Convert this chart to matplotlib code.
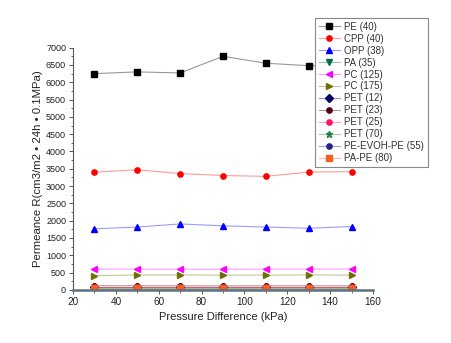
import matplotlib
matplotlib.use("Agg")
import matplotlib.pyplot as plt
from matplotlib.colors import to_rgba
from matplotlib.ticker import MultipleLocator

plt.rcParams['font.family'] = ['Liberation Sans', 'DejaVu Sans']

# pressure difference (kPa)
pressure = [30, 50, 70, 90, 110, 130, 150]

# permeance values
pe_40 = [6250, 6300, 6270, 6750, 6550, 6480, 6460]
cpp_40 = [3400, 3470, 3360, 3305, 3280, 3405, 3415]
opp_38 = [1765, 1815, 1905, 1850, 1815, 1780, 1830]
pa_35 = [15, 15, 15, 15, 15, 15, 15]
pc_125 = [600, 600, 595, 595, 600, 600, 600]
pc_175 = [410, 430, 430, 425, 425, 430, 425]
pet_12 = [90, 90, 90, 90, 90, 90, 90]
pet_23 = [120, 120, 118, 115, 118, 118, 115]
pet_25 = [75, 75, 75, 75, 75, 75, 75]
pet_70 = [40, 40, 40, 40, 40, 40, 40]
pe_evoh_pe = [5, 5, 5, 5, 5, 5, 5]
pa_pe = [55, 60, 58, 55, 58, 58, 55]

series = [
    ("PE (40)", pe_40, "black", "s"),
    ("CPP (40)", cpp_40, "red", "o"),
    ("OPP (38)", opp_38, "blue", "^"),
    ("PA (35)", pa_35, "#007040", "v"),
    ("PC (125)", pc_125, "#ff00ff", "<"),
    ("PC (175)", pc_175, "#707000", ">"),
    ("PET (12)", pet_12, "#000060", "D"),
    ("PET (23)", pet_23, "#500010", "o"),
    ("PET (25)", pet_25, "#ff1060", "o"),
    ("PET (70)", pet_70, "#208040", "*"),
    ("PE-EVOH-PE (55)", pe_evoh_pe, "#202090", "o"),
    ("PA-PE (80)", pa_pe, "#f06020", "s"),
]

fig = plt.figure(figsize=(4.51, 3.43), dpi=100)
ax = fig.add_axes([0.162, 0.155, 0.665, 0.706])

for label, vals, c, m in series:
    ms = 4.5 if m == "*" else 3.8
    ax.plot(pressure, vals, color=to_rgba(c, 0.4), lw=0.8, marker=m,
            markersize=ms, markerfacecolor=c, markeredgecolor=c, label=label)

ax.set_xlim(20, 160)
ax.set_ylim(0, 7000)
ax.xaxis.set_major_locator(MultipleLocator(20))
ax.xaxis.set_minor_locator(MultipleLocator(10))
ax.yaxis.set_major_locator(MultipleLocator(500))
ax.yaxis.set_minor_locator(MultipleLocator(250))

for s in ["top", "right"]:
    ax.spines[s].set_visible(False)
ax.spines["left"].set_color("#555555")
ax.spines["left"].set_linewidth(0.8)
ax.spines["bottom"].set_color("#607080")
ax.spines["bottom"].set_linewidth(1.8)

ax.tick_params(axis="y", which="major", labelsize=6.5)
ax.tick_params(axis="x", which="major", labelsize=7.2)
ax.tick_params(axis="both", which="major", length=3, width=0.7,
               color="#555555", labelcolor="#222222", pad=2)
ax.tick_params(axis="both", which="minor", length=1.8, width=0.6, color="#555555")

ax.set_xlabel("Pressure Difference (kPa)", fontsize=8, color="#222222", labelpad=4)
ax.set_ylabel("Permeance R(cm3/m2 \u2022 24h \u2022 0.1MPa)", fontsize=8.2,
              color="#222222", labelpad=2)

leg = ax.legend(loc="upper left", bbox_to_anchor=(0.698, 0.948),
                bbox_transform=fig.transFigure, fontsize=7, frameon=True,
                fancybox=False, edgecolor="#888888", framealpha=1,
                labelspacing=0.2, handlelength=2.2, handletextpad=0.4,
                borderpad=0.4, borderaxespad=0)
leg.get_frame().set_linewidth(0.8)
for t in leg.get_texts():
    t.set_color("#333333")

fig.savefig("out.png", dpi=100)
